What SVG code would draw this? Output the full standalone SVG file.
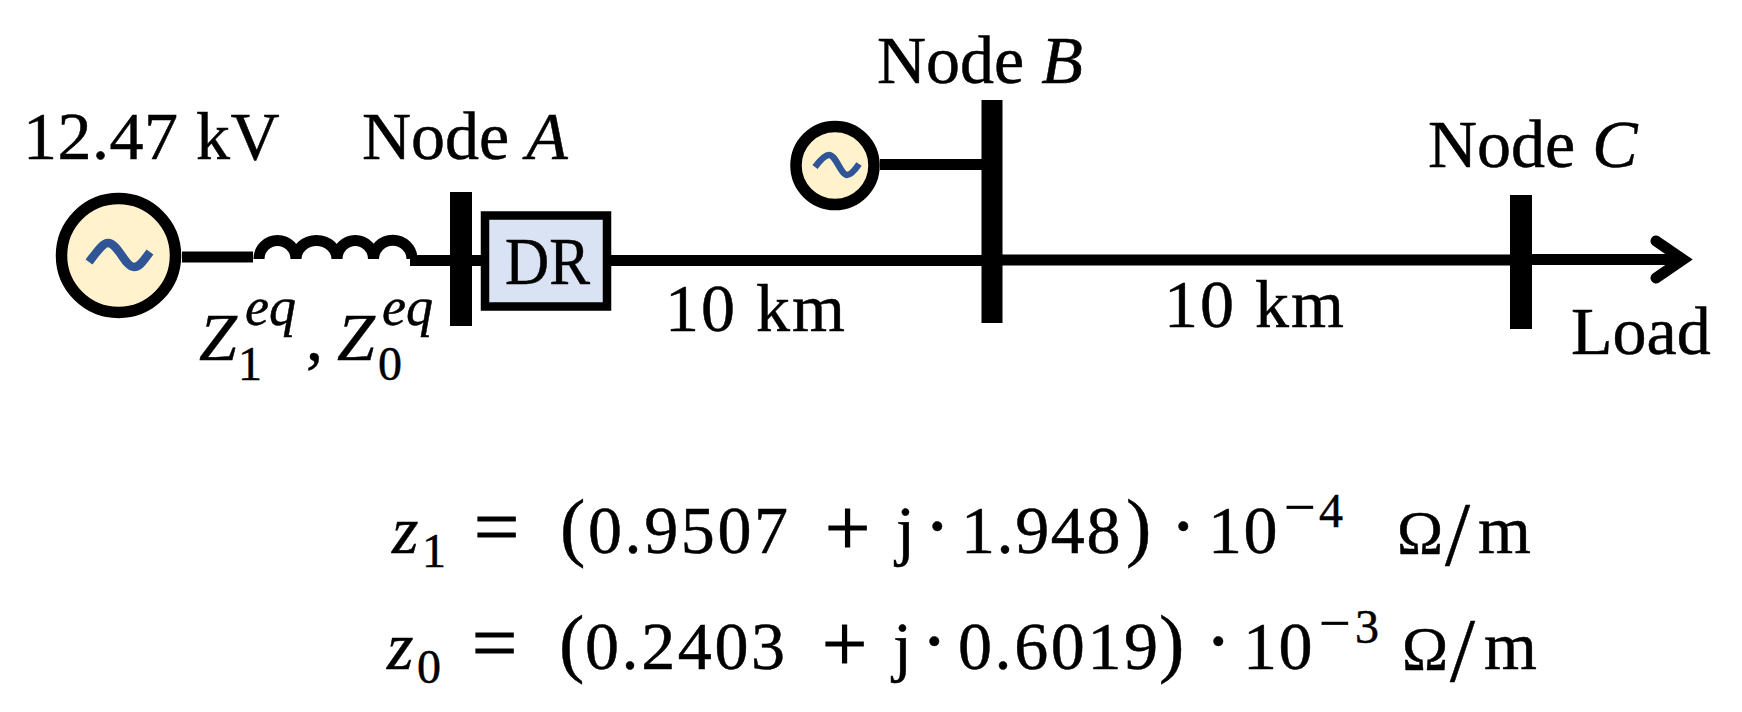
<svg xmlns="http://www.w3.org/2000/svg" width="1742" height="712" viewBox="0 0 1742 712">
<style>
text{font-family:"Liberation Serif","Times New Roman",serif;fill:#000;stroke:#000;stroke-width:.5px;font-size:68px}
.i{font-style:italic}
.s{font-size:48px}
.e{font-size:54px;font-style:italic}
.d{letter-spacing:2.6px}
.t{letter-spacing:1.6px}
.b{font-size:80px}
.h{font-size:80px;stroke-width:1.2px}
.p{font-size:76px}
.m{font-size:56px}
.o{font-size:62px}
.l{font-size:90px}
.w{fill:none;stroke:#000;stroke-width:11}
.gen{fill:#fff2cc;stroke:#000;stroke-width:11.5}
.sine{fill:none;stroke:#2f5597}
.bus{fill:#000}
</style>
<rect width="1742" height="712" fill="#fff"/>
<g id="connectors">
<path class="w" d="M182 257H253"/>
<path class="w" d="M259 259A18.5 18.5 0 0 1 296 259A20.5 18.5 0 0 1 337 259A18.2 18.5 0 0 1 373.5 259A19 18.5 0 0 1 412 259"/>
<path class="w" d="M410 260.500H450"/>
<path class="w" d="M472 260.500H482"/>
<path class="w" d="M611 260.500H982"/>
<path class="w" d="M1002 260H1510"/>
<path class="w" d="M1532 259.500H1683"/>
<path class="w" stroke-linecap="round" d="M1656 241L1683 259.500L1656 278"/>
<path class="w" d="M880 164.500H982"/>
</g>
<g id="source-main">
<circle class="gen" cx="118.500" cy="255.500" r="57"/>
<path class="sine" stroke-width="8.500" d="M89 262C98 250 103 243 108 243C118 243 125 267 134 267C140 267 144 260 150 252"/>
</g>
<g id="source-b">
<circle class="gen" cx="835" cy="165.500" r="39"/>
<path class="sine" stroke-width="6.500" d="M815 167C821 159 825 155 829 155C836 155 841 175 847 175C851 175 855 170 859 164"/>
</g>
<g id="node-a"><rect class="bus" x="450" y="192" width="22" height="134"/></g>
<g id="node-b"><rect class="bus" x="981.500" y="100" width="21" height="223"/></g>
<g id="node-c"><rect class="bus" x="1510" y="195" width="22" height="134"/></g>
<g id="dr"><rect x="485" y="215.500" width="122" height="91" fill="#dae3f3" stroke="#000" stroke-width="8.500"/><text x="505" y="284" textLength="85" lengthAdjust="spacingAndGlyphs">DR</text></g>
<g id="labels">
<text x="23" y="159" style="letter-spacing:.5px">12.47 kV</text>
<text x="362" y="159">Node <tspan class="i">A</tspan></text>
<text x="877" y="83">Node <tspan class="i">B</tspan></text>
<text x="1428" y="167">Node <tspan class="i">C</tspan></text>
<text x="665" y="331" style="letter-spacing:2px">10 km</text>
<text x="1164" y="327" style="letter-spacing:2px">10 km</text>
<text x="1571" y="354">Load</text>
<text y="360"><tspan class="i" x="199">Z</tspan><tspan class="e" x="245" y="325">eq</tspan><tspan class="s" x="238" y="380">1</tspan><tspan x="306" y="360">,</tspan><tspan class="i" x="337">Z</tspan><tspan class="e" x="382" y="325">eq</tspan><tspan class="s" x="378" y="380">0</tspan></text>
</g>
<g id="equations">
<text y="553"><tspan class="i" x="392">z</tspan><tspan class="s" x="422" y="567">1</tspan><tspan class="h" x="474" y="554">=</tspan><tspan class="p" x="560" y="552">(</tspan><tspan class="d" x="588" y="553">0.9507</tspan><tspan class="h" x="825" y="555">+</tspan><tspan x="896" y="553">j</tspan><tspan class="b" x="924">·</tspan><tspan class="t" x="961">1.948</tspan><tspan class="p" x="1126" y="552">)</tspan><tspan class="b" x="1170" y="553">·</tspan><tspan class="t" x="1208">10</tspan><tspan class="m" x="1284" y="526">−</tspan><tspan class="s" x="1319" y="527">4</tspan><tspan class="o" x="1397" y="553">Ω</tspan><tspan class="l" x="1445" y="565">/</tspan><tspan x="1478" y="553">m</tspan></text>
<text y="669"><tspan class="i" x="387">z</tspan><tspan class="s" x="417" y="683">0</tspan><tspan class="h" x="472" y="670">=</tspan><tspan class="p" x="559" y="668">(</tspan><tspan class="d" x="585" y="669">0.2403</tspan><tspan class="h" x="822" y="671">+</tspan><tspan x="893" y="669">j</tspan><tspan class="b" x="921" y="668">·</tspan><tspan class="d" x="958" y="669">0.6019</tspan><tspan class="p" x="1159" y="668">)</tspan><tspan class="b" x="1205" y="668">·</tspan><tspan class="t" x="1243" y="669">10</tspan><tspan class="m" x="1319" y="642">−</tspan><tspan class="s" x="1355" y="643">3</tspan><tspan class="o" x="1402" y="669">Ω</tspan><tspan class="l" x="1450" y="681">/</tspan><tspan x="1484" y="669">m</tspan></text>
</g>
</svg>
